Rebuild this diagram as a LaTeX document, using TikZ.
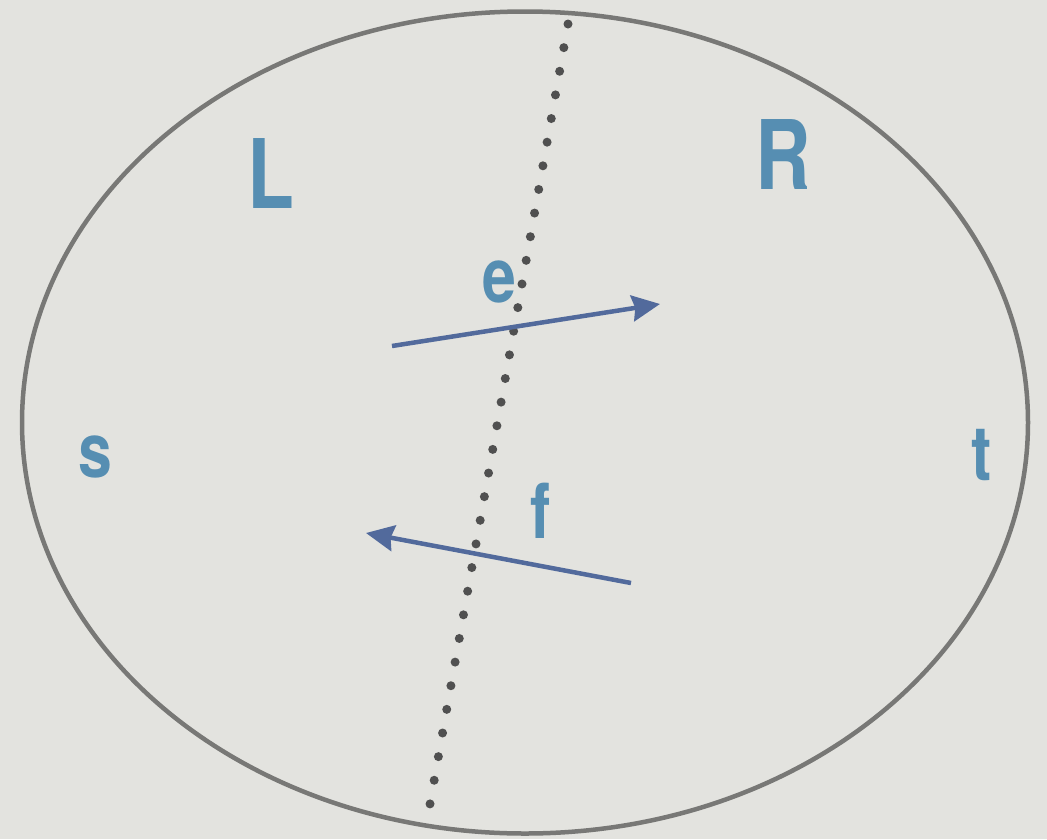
\documentclass[tikz,border=0pt]{standalone}
\usepackage{fontspec}
\setmainfont{TeX Gyre Heros}[FakeStretch=0.8]
\usetikzlibrary{arrows.meta}
\definecolor{bgc}{RGB}{227,227,223}
\definecolor{ringc}{RGB}{120,120,118}
\definecolor{labc}{RGB}{86,142,178}
\definecolor{arrc}{RGB}{82,106,156}
\definecolor{dotc}{RGB}{80,80,80}
\tikzset{
  big/.style={font=\fontsize{96}{96}\selectfont\bfseries, text=labc, inner sep=0pt},
  small/.style={font=\fontsize{76}{76}\selectfont\bfseries, text=labc, inner sep=0pt},
  flow/.style={draw=arrc, line width=4.5pt, -{Stealth[length=28pt,width=26pt,inset=3pt]}},
  cut/.style={draw=dotc, line width=9pt, line cap=round, dash pattern=on 0pt off 24pt}
}
\begin{document}
\begin{tikzpicture}[x=1pt,y=-1pt]
\useasboundingbox (0,0) rectangle (1047,839);
\fill[bgc] (0,0) rectangle (1047,839);
\draw[ringc, line width=4.5pt] (525,422.5) ellipse [x radius=503, y radius=411];
\coordinate (ctop) at (568,24);
\coordinate (cbot) at (430,804);
\draw[cut] (ctop) -- (cbot);
\node[big] (L) at (271,174) {L};
\node[big] (R) at (783,155) {R};
\node[small] (e) at (499,282) {e};
\node[small] (f) at (541,511) {f};
\node[small] (s) at (95,457) {s};
\node[small] (t) at (982,455) {t};
\coordinate (e1) at (392,346);
\coordinate (e2) at (660,304);
\coordinate (f1) at (631,583);
\coordinate (f2) at (366,533);
\draw[flow] (e1) -- (e2);
\draw[flow] (f1) -- (f2);
\end{tikzpicture}
\end{document}
